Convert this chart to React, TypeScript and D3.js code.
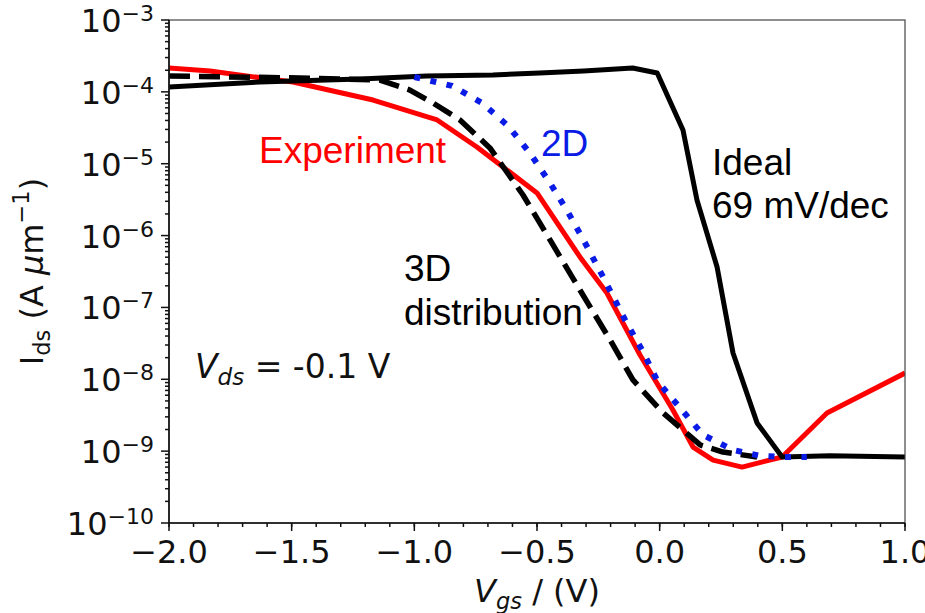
import React from "react";
import * as d3 from "d3";

// Transfer characteristics: gate voltage (V) vs drain current (A/µm)
const vgsIdeal = [-2.0, -1.63, -1.22, -0.95, -0.68, -0.49, -0.31, -0.11, -0.01, 0.095, 0.152, 0.234, 0.299, 0.397, 0.499, 0.694, 1.0];
const idsIdeal = [1.17e-4, 1.37e-4, 1.51e-4, 1.66e-4, 1.72e-4, 1.83e-4, 1.95e-4, 2.15e-4, 1.83e-4, 2.94e-5, 3.13e-6, 3.66e-7, 2.32e-8, 2.47e-9, 8.3e-10, 8.6e-10, 8.3e-10];

const vgsExp = [-2.0, -1.833, -1.589, -1.495, -1.168, -0.907, -0.745, -0.5, -0.325, -0.215, -0.08, 0.054, 0.136, 0.218, 0.336, 0.499, 0.682, 1.0];
const idsExp = [2.15e-4, 1.95e-4, 1.51e-4, 1.37e-4, 7.7e-5, 4.06e-5, 1.71e-5, 3.92e-6, 5.04e-7, 1.59e-7, 2.18e-8, 3.74e-9, 1.14e-9, 7.5e-10, 6.0e-10, 8.3e-10, 3.4e-9, 1.22e-8];

const vgs3D = [-2.0, -1.466, -1.14, -1.018, -0.924, -0.814, -0.692, -0.557, -0.447, -0.325, -0.202, -0.109, 0.014, 0.095, 0.165, 0.258, 0.397];
const ids3D = [1.66e-4, 1.56e-4, 1.46e-4, 1.06e-4, 7.0e-5, 4.06e-5, 1.66e-5, 3.67e-6, 8.7e-7, 1.75e-7, 3.52e-8, 9.8e-9, 3.4e-9, 1.97e-9, 1.22e-9, 9.7e-10, 8.3e-10];

const vgs2D = [-1.0, -0.846, -0.724, -0.618, -0.529, -0.447, -0.374, -0.304, -0.235, -0.141, -0.072, -0.007, 0.083, 0.177, 0.299, 0.409, 0.499, 0.6];
const ids2D = [1.61e-4, 1.21e-4, 7.0e-5, 3.35e-5, 1.41e-5, 5.4e-6, 2.13e-6, 7.9e-7, 2.83e-7, 6.7e-8, 2.56e-8, 9.2e-9, 4.0e-9, 1.68e-9, 1.04e-9, 8.6e-10, 8.3e-10, 8.3e-10];

const xDomain = [-2.0, 1.0];
const yDomain = [1e-10, 1e-3];
const decadeExponents = [-10, -9, -8, -7, -6, -5, -4, -3];

const W = 925;
const H = 613;
const plot = { left: 169, right: 905, top: 20, bottom: 523 };

const TICK_FONT = "'DejaVu Sans', sans-serif";
const NOTE_FONT = "'Liberation Sans', Arial, sans-serif";

export default function App() {
  const x = d3.scaleLinear().domain(xDomain).range([plot.left, plot.right]);
  const y = d3.scaleLog().domain(yDomain).range([plot.bottom, plot.top]);

  const line = d3
    .line<[number, number]>()
    .x((d) => x(d[0]))
    .y((d) => y(d[1]));

  const zip = (a: number[], b: number[]) => a.map((v, i) => [v, b[i]] as [number, number]);

  const xMajor = x.ticks(6);
  const xMinor = d3.range(-20, 11).map((k) => k / 10);
  const yMinor: number[] = [];
  decadeExponents.slice(0, -1).forEach((e) => {
    for (let m = 2; m <= 9; m++) yMinor.push(m * Math.pow(10, e));
  });
  const fmt = d3.format(".1f");

  return (
    <svg
      width={W}
      height={H}
      style={{ position: "absolute", left: 0, top: 0, background: "#fff" }}
    >
      <defs>
        <clipPath id="plotArea">
          <rect x={plot.left} y={plot.top} width={plot.right - plot.left} height={plot.bottom - plot.top} />
        </clipPath>
      </defs>

      {/* curves */}
      <g clipPath="url(#plotArea)" fill="none" strokeLinejoin="round">
        <path d={line(zip(vgsExp, idsExp)) || ""} stroke="#ff0000" strokeWidth={5} />
        <path d={line(zip(vgsIdeal, idsIdeal)) || ""} stroke="#000" strokeWidth={5} />
        <path d={line(zip(vgs3D, ids3D)) || ""} stroke="#000" strokeWidth={5.5} strokeDasharray="21 9" />
        <path d={line(zip(vgs2D, ids2D)) || ""} stroke="#0a1be6" strokeWidth={6} strokeDasharray="6 10.5" />
      </g>

      {/* frame */}
      <rect
        x={plot.left}
        y={plot.top}
        width={plot.right - plot.left}
        height={plot.bottom - plot.top}
        fill="none"
        stroke="#444"
        strokeWidth={1.2}
      />
      <line x1={plot.left} x2={plot.left} y1={plot.top} y2={plot.bottom} stroke="#111" strokeWidth={1.6} />
      <line x1={plot.left} x2={plot.right} y1={plot.bottom} y2={plot.bottom} stroke="#111" strokeWidth={1.6} />

      {/* y ticks */}
      <g stroke="#111" strokeWidth={1.5}>
        {decadeExponents.map((e) => (
          <line key={"ym" + e} x1={plot.left - 8} x2={plot.left} y1={y(Math.pow(10, e))} y2={y(Math.pow(10, e))} />
        ))}
        {yMinor.map((v, i) => (
          <line key={"yn" + i} x1={plot.left - 4} x2={plot.left} y1={y(v)} y2={y(v)} />
        ))}
      </g>
      <g fontFamily={TICK_FONT} fill="#111">
        {decadeExponents.map((e) => (
          <text key={"yl" + e} x={154} y={y(Math.pow(10, e)) + 12} textAnchor="end" fontSize={32}>
            10
            <tspan dy={-11} fontSize={22}>
              {"\u2212" + Math.abs(e)}
            </tspan>
          </text>
        ))}
      </g>

      {/* x ticks */}
      <g stroke="#111" strokeWidth={1.5}>
        {xMajor.map((v) => (
          <line key={"xm" + v} x1={x(v)} x2={x(v)} y1={plot.bottom} y2={plot.bottom + 8} />
        ))}
        {xMinor.map((v, i) => (
          <line key={"xn" + i} x1={x(v)} x2={x(v)} y1={plot.bottom} y2={plot.bottom + 4} />
        ))}
      </g>
      <g fontFamily={TICK_FONT} fill="#111" fontSize={32} textAnchor="middle">
        {xMajor.map((v) => (
          <text key={"xl" + v} x={x(v)} y={563}>
            {fmt(v)}
          </text>
        ))}
      </g>

      {/* axis titles */}
      <text
        fontFamily={TICK_FONT}
        fontSize={32}
        fill="#111"
        textAnchor="middle"
        transform={`translate(43, ${(plot.top + plot.bottom) / 2}) rotate(-90)`}
      >
        I
        <tspan fontSize={22.5} dy={7}>ds</tspan>
        <tspan dy={-7}> (A </tspan>
        <tspan fontStyle="italic">μ</tspan>
        <tspan>m</tspan>
        <tspan fontSize={22.5} dy={-14}>{"\u22121"}</tspan>
        <tspan dy={14}>)</tspan>
      </text>
      <text
        fontFamily={TICK_FONT}
        fontSize={32}
        fill="#111"
        textAnchor="middle"
        x={(plot.left + plot.right) / 2}
        y={602}
      >
        <tspan fontStyle="italic">V</tspan>
        <tspan fontSize={22.5} dy={7} fontStyle="italic">gs</tspan>
        <tspan dy={-7}> / (V)</tspan>
      </text>

      {/* annotations */}
      <text fontFamily={TICK_FONT} fontSize={33} fill="#111" x={195} y={378}>
        <tspan fontStyle="italic">V</tspan>
        <tspan fontSize={23} dy={7} fontStyle="italic">ds</tspan>
        <tspan dy={-7}> = -0.1 V</tspan>
      </text>
      <g fontFamily={NOTE_FONT} fontSize={37}>
        <text x={259} y={163} fill="#ff0000">Experiment</text>
        <text x={541} y={156} fill="#0a1be6">2D</text>
        <text x={712} y={175} fill="#000">Ideal</text>
        <text x={712} y={218} fill="#000">69 mV/dec</text>
        <text x={404} y={281} fill="#000">3D</text>
        <text x={404} y={325} fill="#000">distribution</text>
      </g>
    </svg>
  );
}
